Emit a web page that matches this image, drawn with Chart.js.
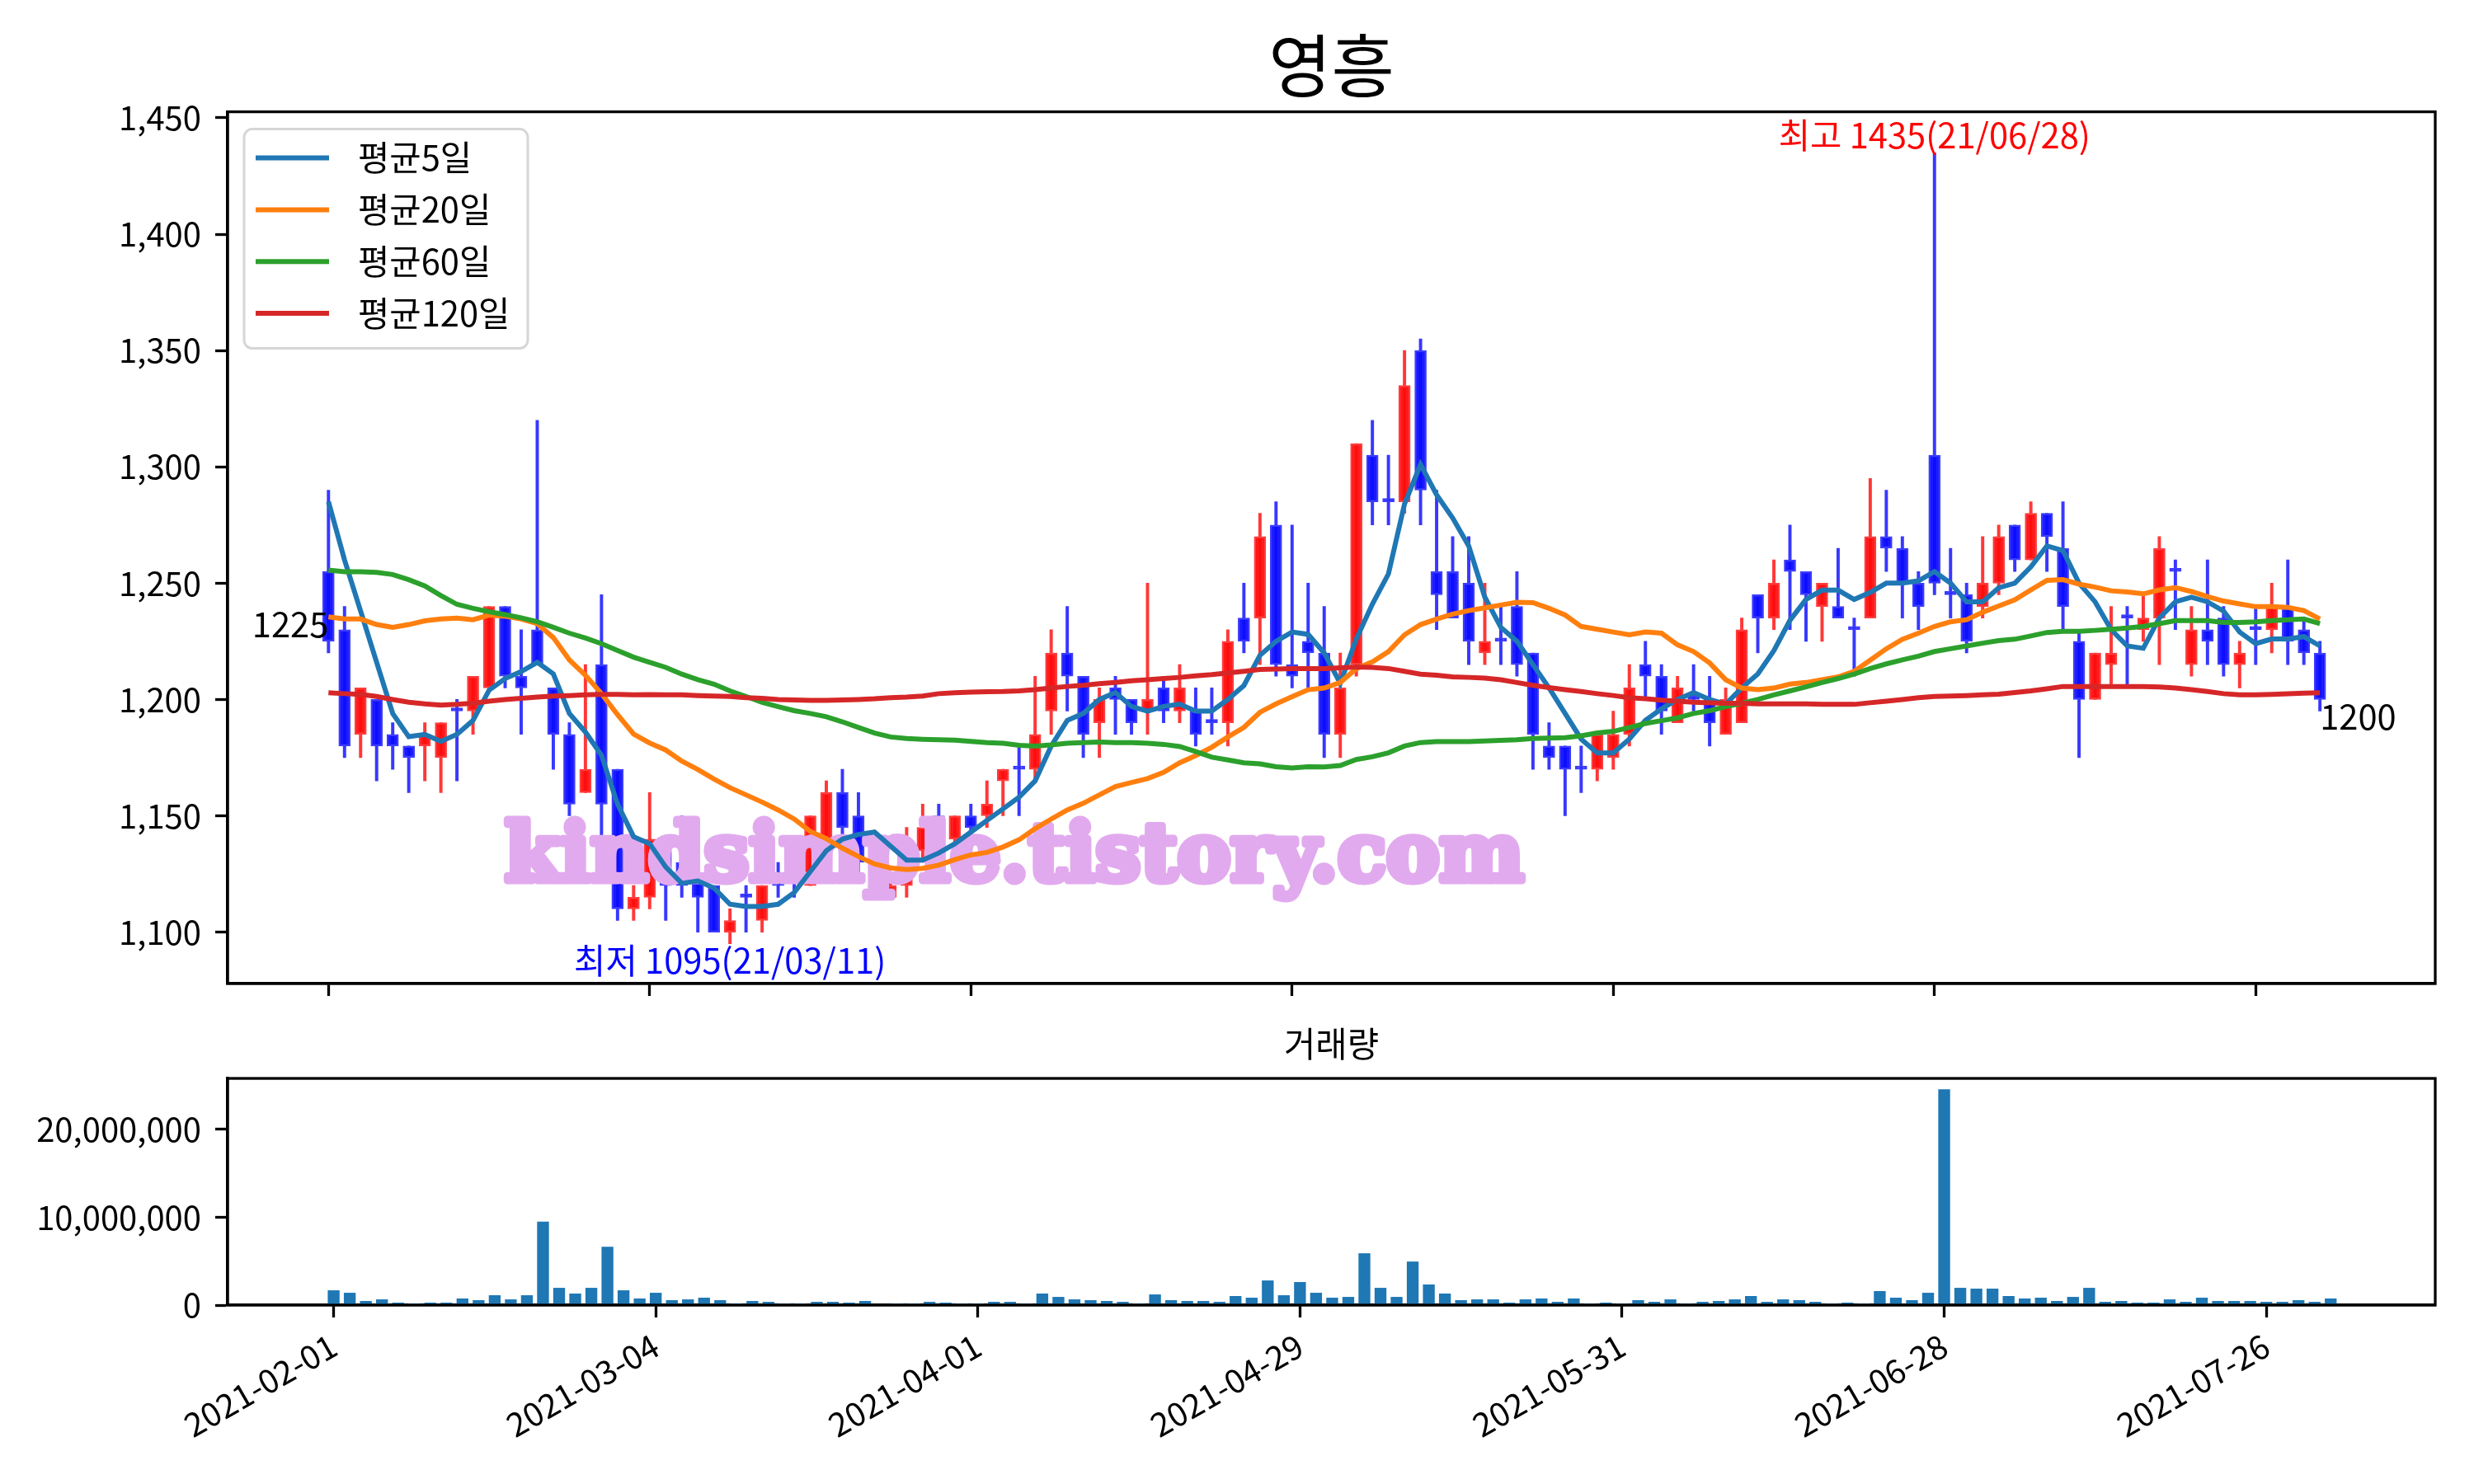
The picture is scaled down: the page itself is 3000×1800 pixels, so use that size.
<!DOCTYPE html>
<html><head><meta charset="utf-8">
<script src="https://cdn.jsdelivr.net/npm/chart.js@4.4.1/dist/chart.umd.min.js"></script>
<style>
html,body{margin:0;padding:0;background:#fff;}
#wrap{position:relative;width:3000px;height:1800px;background:#fff;overflow:hidden;}
#c1{position:absolute;left:0;top:0;}
#c2{position:absolute;left:0;top:1240px;}
</style></head><body>
<div id="wrap"><canvas id="c1" width="3000" height="1240"></canvas><canvas id="c2" width="3000" height="560"></canvas></div>
<script>
// ---------------- DATA ----------------
const chartTitle = '영흥';
const volumeTitle = '거래량';
const seriesNames = ['평균5일', '평균20일', '평균60일', '평균120일'];
const tickIdx = [0, 20, 40, 60, 80, 100, 120];
const tickLabels = ['2021-02-01', '2021-03-04', '2021-04-01', '2021-04-29', '2021-05-31', '2021-06-28', '2021-07-26'];
const priceTicks = [1100, 1150, 1200, 1250, 1300, 1350, 1400, 1450];
const volumeTicks = [0, 10000000, 20000000];
const highDate = '21/06/28';
const lowDate = '21/03/11';
const watermark = 'kindsimple.tistory.com';

const opens = [1255,1230,1185,1200,1185,1180,1180,1175,1195,1195,
 1205,1240,1210,1230,1205,1185,1160,1215,1170,1110,
 1115,1135,1130,1125,1120,1100,1115,1105,1120,1130,
 1120,1130,1160,1150,1135,1115,1120,1135,1150,1140,
 1150,1150,1165,1170,1170,1195,1220,1210,1190,1205,
 1200,1195,1205,1195,1195,1190,1190,1235,1235,1275,
 1215,1225,1220,1185,1215,1305,1285,1285,1350,1255,
 1255,1250,1220,1225,1240,1220,1180,1180,1170,1170,
 1175,1185,1215,1210,1190,1200,1200,1185,1190,1245,
 1235,1260,1255,1240,1240,1230,1235,1270,1265,1250,
 1305,1245,1245,1240,1250,1275,1260,1280,1265,1225,
 1200,1215,1235,1230,1235,1255,1215,1230,1235,1215,
 1230,1230,1240,1230,1220];
const highs = [1290,1240,1205,1200,1190,1180,1190,1190,1200,1210,
 1240,1240,1230,1320,1205,1190,1215,1245,1170,1120,
 1160,1140,1150,1130,1120,1110,1120,1120,1130,1135,
 1150,1165,1170,1160,1140,1125,1145,1155,1155,1150,
 1155,1165,1170,1180,1210,1230,1240,1210,1205,1210,
 1200,1250,1210,1215,1205,1205,1230,1250,1280,1285,
 1275,1250,1240,1220,1310,1320,1305,1350,1355,1290,
 1270,1270,1250,1240,1255,1220,1190,1180,1180,1185,
 1195,1215,1225,1215,1210,1215,1210,1205,1235,1245,
 1260,1275,1255,1250,1265,1235,1295,1290,1270,1255,
 1435,1265,1250,1270,1275,1275,1285,1280,1285,1230,
 1220,1240,1240,1245,1270,1260,1240,1260,1240,1225,
 1240,1250,1260,1235,1225];
const lows = [1220,1175,1175,1165,1170,1160,1165,1160,1165,1185,
 1205,1205,1185,1215,1170,1150,1160,1140,1105,1105,
 1110,1105,1115,1100,1100,1095,1100,1100,1115,1115,
 1120,1125,1140,1125,1120,1115,1115,1130,1135,1135,
 1140,1145,1150,1150,1165,1185,1195,1175,1175,1185,
 1185,1185,1190,1190,1180,1185,1180,1220,1215,1210,
 1205,1205,1175,1175,1210,1275,1275,1280,1275,1230,
 1235,1215,1215,1215,1210,1170,1170,1150,1160,1165,
 1170,1180,1200,1185,1190,1195,1180,1185,1190,1220,
 1230,1230,1225,1225,1235,1210,1235,1255,1235,1230,
 1245,1235,1220,1235,1245,1255,1260,1255,1230,1175,
 1200,1205,1205,1225,1215,1230,1210,1215,1210,1205,
 1215,1220,1215,1215,1195];
const closes = [1225,1180,1205,1180,1180,1175,1185,1190,1195,1210,
 1240,1210,1205,1215,1185,1155,1170,1155,1110,1115,
 1140,1120,1120,1115,1100,1105,1115,1120,1120,1125,
 1150,1160,1145,1130,1130,1120,1130,1145,1145,1150,
 1145,1155,1170,1170,1185,1220,1210,1185,1200,1200,
 1190,1200,1195,1205,1185,1190,1225,1225,1270,1215,
 1210,1220,1185,1205,1310,1285,1285,1335,1290,1245,
 1235,1225,1225,1225,1215,1185,1175,1170,1170,1185,
 1185,1205,1210,1195,1205,1200,1190,1200,1230,1235,
 1250,1255,1245,1250,1235,1230,1270,1265,1250,1240,
 1250,1245,1225,1250,1270,1260,1280,1270,1240,1200,
 1220,1220,1235,1235,1265,1255,1230,1225,1215,1220,
 1230,1240,1225,1220,1200];
const ma5 = [1285,1260,1238,1216,1194,1184,1185,1182,1185,1191,
 1204,1209,1212,1216,1211,1194,1186,1176,1155,1141,
 1138,1128,1121,1122,1119,1112,1111,1111,1112,1117,
 1126,1135,1140,1142,1143,1137,1131,1131,1134,1138,
 1143,1148,1153,1158,1165,1180,1191,1194,1200,1203,
 1197,1195,1197,1198,1195,1195,1200,1206,1219,1225,
 1229,1228,1220,1207,1226,1241,1254,1284,1301,1288,
 1278,1266,1244,1231,1225,1215,1205,1194,1183,1177,
 1177,1183,1191,1196,1200,1203,1200,1198,1205,1211,
 1221,1234,1243,1247,1247,1243,1246,1250,1250,1251,
 1255,1250,1242,1242,1248,1250,1257,1266,1264,1250,
 1242,1230,1223,1222,1235,1242,1244,1242,1238,1229,
 1224,1226,1226,1227,1223];
const ma20 = [1235.5,1234.6,1234.6,1232.2,1231,1232.2,1233.8,1234.6,1235,1234.3,
 1236.3,1235.8,1234.6,1232.6,1226.6,1217,1210.4,1202.5,1193.5,1185.1,
 1181.3,1178.3,1173.5,1169.9,1165.8,1162.1,1159,1155.9,1152.5,1148.6,
 1143.3,1140.2,1136.1,1132.5,1129.3,1127.6,1126.9,1127.4,1128.8,1131.2,
 1133.2,1134.3,1136.6,1139.7,1144.5,1148.6,1152.5,1155.4,1159,1162.6,
 1164.3,1166,1168.7,1172.8,1175.9,1179.5,1183.9,1188,1194.5,1198.1,
 1201.2,1204.2,1204.9,1207.3,1213.3,1216.2,1220.6,1227.8,1232.2,1234.6,
 1236.7,1238.2,1239.4,1240.6,1241.8,1241.6,1239.2,1236.3,1231.4,1230.2,
 1229,1227.8,1229,1228.5,1223.5,1220.6,1215.7,1208.5,1204.9,1204.2,
 1204.9,1206.6,1207.3,1208.5,1209.7,1212.1,1216.9,1221.8,1225.9,1228.5,
 1231.4,1233.4,1234.3,1237.5,1240.2,1242.8,1247.1,1251.2,1251.5,1249.6,
 1248.3,1246.7,1246.2,1245.4,1247.1,1248.1,1246.4,1244.2,1242.3,1241.1,
 1239.9,1239.9,1239.6,1238.2,1234.6];
const ma60 = [1255.6,1254.9,1254.9,1254.6,1253.7,1251.5,1248.8,1244.7,1240.9,1239.2,
 1237.7,1236.5,1235.1,1233.4,1231,1228.5,1226.4,1224,1221.1,1218.2,
 1216,1213.8,1210.9,1208.5,1206.6,1203.7,1201.3,1198.8,1196.9,1195.2,
 1194,1192.6,1190.4,1188,1185.6,1183.9,1183.2,1182.9,1182.7,1182.5,
 1182,1181.5,1181.2,1180.3,1180,1180.5,1181.2,1181.5,1181.7,1181.5,
 1181.5,1181.2,1180.7,1179.8,1177.6,1175.2,1174,1172.8,1172.3,1171.1,
 1170.6,1171.1,1171,1171.6,1174.2,1175.4,1177.1,1180,1181.5,1181.9,
 1181.9,1181.9,1182.2,1182.4,1182.7,1183.2,1183.4,1183.6,1184.4,1185.6,
 1186.3,1188,1189.7,1190.9,1192.1,1194,1195.2,1196.9,1198.4,1200,
 1202,1203.7,1205.4,1207.3,1209,1210.9,1213.3,1215.3,1217,1218.6,
 1220.6,1221.8,1223,1224.2,1225.3,1225.9,1227.3,1228.8,1229.3,1229.3,
 1229.7,1230.2,1230.7,1231.4,1232.6,1233.9,1233.9,1233.9,1233.1,1233.1,
 1233.4,1233.9,1234.3,1234.6,1232.6];
const ma120 = [1202.9,1202.5,1202.2,1201.3,1200,1198.8,1198.1,1197.6,1197.9,1198.4,
 1199.3,1200,1200.5,1201,1201.5,1201.7,1202,1202.2,1202.2,1202,
 1202.1,1202,1202,1201.7,1201.5,1201.3,1200.8,1200.5,1200,1199.8,
 1199.6,1199.6,1199.8,1200,1200.3,1200.8,1201,1201.5,1202.5,1202.9,
 1203.2,1203.3,1203.4,1203.7,1204.2,1204.9,1205.6,1206.1,1206.8,1207.3,
 1208,1208.5,1209,1209.5,1210.2,1210.7,1211.4,1212.1,1212.9,1213.1,
 1213.3,1213.3,1213.3,1213.6,1214,1213.8,1213.3,1212.1,1210.9,1210.4,
 1209.7,1209.5,1209.2,1208.5,1207.3,1206.1,1205.1,1204.2,1203.4,1202.5,
 1201.7,1200.8,1200.3,1199.7,1199.3,1198.8,1198.6,1198.4,1198.4,1198.1,
 1198.1,1198.1,1198.1,1197.9,1197.9,1197.9,1198.6,1199.3,1200,1200.8,
 1201.3,1201.5,1201.7,1202,1202.3,1203,1203.7,1204.6,1205.6,1205.6,
 1205.6,1205.6,1205.6,1205.6,1205.4,1204.9,1204.2,1203.4,1202.5,1202,
 1202,1202.2,1202.5,1202.7,1202.9];
const volumes = [1650000,1370000,440000,620000,250000,160000,250000,250000,720000,530000,
 1090000,620000,1090000,9450000,1930000,1280000,1930000,6600000,1650000,720000,
 1370000,530000,620000,810000,530000,160000,440000,340000,160000,160000,
 340000,340000,250000,440000,60000,160000,160000,340000,250000,160000,
 160000,340000,340000,160000,1280000,900000,620000,530000,440000,340000,
 160000,1180000,530000,440000,440000,340000,1000000,810000,2770000,1090000,
 2590000,1370000,810000,900000,5860000,1930000,900000,4920000,2310000,1280000,
 530000,620000,620000,250000,620000,720000,340000,720000,160000,250000,
 160000,530000,340000,620000,160000,340000,440000,620000,1000000,340000,
 620000,530000,340000,160000,250000,160000,1560000,810000,530000,1370000,
 24500000,1930000,1840000,1840000,1000000,720000,810000,440000,900000,1930000,
 340000,440000,250000,250000,620000,340000,810000,440000,440000,440000,
 340000,340000,530000,340000,720000];

// ---------------- STYLE ----------------
const FONT = "'Noto Sans CJK KR', 'Noto Sans', sans-serif";
const FS = 40;
const lineColors = ['#1f77b4', '#ff7f0e', '#2ca02c', '#d62728'];
Chart.defaults.font.family = FONT;
Chart.defaults.color = '#000';

const idx = closes.map((_, i) => i);
const isUp = i => closes[i] > opens[i];
const pts = arr => arr.map((v, i) => ({x: i, y: v}));

const framePlugin = {
  id: 'frame',
  afterDatasetsDraw(chart) {
    const {ctx, chartArea: a} = chart;
    ctx.save();
    ctx.strokeStyle = '#000';
    ctx.lineWidth = 3.3;
    ctx.strokeRect(a.left, a.top, a.right - a.left, a.bottom - a.top);
    ctx.restore();
  }
};

const watermarkPlugin = {
  id: 'watermark',
  afterDatasetDraw(chart, args) {
    if (args.index !== 1) return;
    const ctx = chart.ctx;
    ctx.save();
    let size = 92;
    ctx.font = `bold ${size}px 'DejaVu Serif'`;
    const w = ctx.measureText(watermark).width;
    size = size * 1236 / w;
    ctx.font = `bold ${size}px 'DejaVu Serif'`;
    ctx.fillStyle = '#E2AAEE';
    ctx.strokeStyle = '#E2AAEE';
    ctx.lineWidth = 9;
    ctx.lineJoin = 'round';
    ctx.textAlign = 'center';
    ctx.textBaseline = 'alphabetic';
    ctx.strokeText(watermark, 1230, 1068);
    ctx.fillText(watermark, 1230, 1068);
    ctx.restore();
  }
};

const annotationPlugin = {
  id: 'annot',
  afterDatasetsDraw(chart) {
    const {ctx} = chart;
    const xs = chart.scales.x, ys = chart.scales.y;
    const maxH = Math.max(...highs), iMax = highs.indexOf(maxH);
    const minL = Math.min(...lows), iMin = lows.indexOf(minL);
    const last = closes.length - 1;
    ctx.save();
    ctx.font = `41.7px ${FONT}`;
    ctx.fillStyle = '#ff0000';
    ctx.textAlign = 'center';
    ctx.textBaseline = 'bottom';
    ctx.fillText(`최고 ${maxH}(${highDate})`, xs.getPixelForValue(iMax), ys.getPixelForValue(maxH));
    ctx.fillStyle = '#0000ff';
    ctx.textBaseline = 'top';
    ctx.fillText(`최저 ${minL}(${lowDate})`, xs.getPixelForValue(iMin), ys.getPixelForValue(minL));
    ctx.fillStyle = '#000';
    ctx.textAlign = 'right';
    ctx.textBaseline = 'bottom';
    ctx.fillText(String(closes[0]), xs.getPixelForValue(0), ys.getPixelForValue(closes[0]));
    ctx.textAlign = 'left';
    ctx.textBaseline = 'top';
    ctx.fillText(String(closes[last]), xs.getPixelForValue(last), ys.getPixelForValue(closes[last]));
    ctx.restore();
  }
};

const legendPlugin = {
  id: 'mylegend',
  afterDraw(chart) {
    const {ctx, chartArea: a} = chart;
    const bx = a.left + 20, by = a.top + 21, bw = 344, bh = 266, r = 10;
    ctx.save();
    ctx.beginPath();
    ctx.moveTo(bx + r, by);
    ctx.arcTo(bx + bw, by, bx + bw, by + bh, r);
    ctx.arcTo(bx + bw, by + bh, bx, by + bh, r);
    ctx.arcTo(bx, by + bh, bx, by, r);
    ctx.arcTo(bx, by, bx + bw, by, r);
    ctx.closePath();
    ctx.fillStyle = 'rgba(255,255,255,0.8)';
    ctx.fill();
    ctx.strokeStyle = '#d6d6d6';
    ctx.lineWidth = 3;
    ctx.stroke();
    ctx.font = `41.7px ${FONT}`;
    ctx.textAlign = 'left';
    ctx.textBaseline = 'middle';
    seriesNames.forEach((name, k) => {
      const yy = by + 35 + k * 62.8;
      ctx.strokeStyle = lineColors[k];
      ctx.lineWidth = 6;
      ctx.beginPath();
      ctx.moveTo(bx + 14, yy);
      ctx.lineTo(bx + 103, yy);
      ctx.stroke();
      ctx.fillStyle = '#000';
      ctx.fillText(name, bx + 138, yy);
    });
    ctx.restore();
  }
};

const tickGrid = {display: true, offset: false, drawOnChartArea: false, drawTicks: true, tickLength: 15, tickWidth: 3.3, tickColor: '#000', color: '#000'};
const axisBorder = {display: true, color: '#000', width: 3.3};

// ---------------- PRICE CHART ----------------
new Chart(document.getElementById('c1'), {
  data: {
    datasets: [
      {
        type: 'bar', label: 'wick', order: 6, grouped: false,
        data: idx.map(i => ({x: i, y: [lows[i], highs[i]]})),
        backgroundColor: idx.map(i => isUp(i) ? 'rgba(255,0,0,0.78)' : 'rgba(0,0,255,0.78)'),
        borderWidth: 0, barThickness: 3.3
      },
      {
        type: 'bar', label: 'body', order: 5, grouped: false,
        data: idx.map(i => ({x: i, y: [opens[i], closes[i]]})),
        backgroundColor: idx.map(i => isUp(i) ? 'rgba(255,10,10,0.92)' : 'rgba(10,10,255,0.92)'),
        borderColor: idx.map(i => isUp(i) ? 'rgba(255,60,60,1)' : 'rgba(60,60,255,1)'),
        borderWidth: 2.5, borderSkipped: false, barThickness: 14, minBarLength: 4
      },
      {type: 'line', label: seriesNames[0], order: 4, data: pts(ma5), borderColor: lineColors[0], borderWidth: 6, pointRadius: 0, tension: 0},
      {type: 'line', label: seriesNames[1], order: 3, data: pts(ma20), borderColor: lineColors[1], borderWidth: 6, pointRadius: 0, tension: 0},
      {type: 'line', label: seriesNames[2], order: 2, data: pts(ma60), borderColor: lineColors[2], borderWidth: 6, pointRadius: 0, tension: 0},
      {type: 'line', label: seriesNames[3], order: 1, data: pts(ma120), borderColor: lineColors[3], borderWidth: 6, pointRadius: 0, tension: 0}
    ]
  },
  options: {
    responsive: false, animation: false, devicePixelRatio: 1, events: [],
    layout: {padding: {left: 0, right: 47, top: 0, bottom: 0}},
    plugins: {
      legend: {display: false}, tooltip: {enabled: false},
      title: {display: true, text: chartTitle, fullSize: false, color: '#000',
        font: {size: 83, weight: 'normal', family: FONT}, padding: {top: 30, bottom: 6}}
    },
    scales: {
      x: {
        type: 'linear', min: -6.28, max: 131.18, offset: false,
        afterBuildTicks: s => { s.ticks = tickIdx.map(v => ({value: v})); },
        ticks: {display: false, autoSkip: false},
        grid: tickGrid, border: axisBorder,
        afterFit: s => { s.height = 47; }
      },
      y: {
        type: 'linear', min: 1077.9, max: 1452.6,
        afterBuildTicks: s => { s.ticks = priceTicks.map(v => ({value: v})); },
        ticks: {font: {size: FS, family: FONT}, color: '#000', padding: 17, callback: v => v.toLocaleString('en-US')},
        grid: tickGrid, border: axisBorder,
        afterFit: s => { s.width = 276; }
      }
    }
  },
  plugins: [watermarkPlugin, framePlugin, annotationPlugin, legendPlugin]
});

// ---------------- VOLUME CHART ----------------
new Chart(document.getElementById('c2'), {
  type: 'bar',
  data: {
    datasets: [{
      label: volumeTitle,
      data: idx.map(i => ({x: i, y: volumes[i]})),
      backgroundColor: '#1f77b4', borderWidth: 0, barThickness: 13.7
    }]
  },
  options: {
    responsive: false, animation: false, devicePixelRatio: 1, events: [],
    layout: {padding: {left: 0, right: 47, top: 0, bottom: 0}},
    plugins: {
      legend: {display: false}, tooltip: {enabled: false},
      title: {display: true, text: volumeTitle, fullSize: false, color: '#000',
        font: {size: 41.7, weight: 'normal', family: FONT}, padding: {top: 1, bottom: 17}}
    },
    scales: {
      x: {
        type: 'linear', min: -6.585, max: 130.49, offset: false,
        afterBuildTicks: s => { s.ticks = tickIdx.map(v => ({value: v})); },
        ticks: {autoSkip: false, minRotation: 30, maxRotation: 30, padding: 10,
          font: {size: FS, family: FONT}, color: '#000',
          callback: (v, i) => tickLabels[i]},
        grid: tickGrid, border: axisBorder,
        afterFit: s => { s.height = 217; }
      },
      y: {
        type: 'linear', min: 0, max: 25770000,
        afterBuildTicks: s => { s.ticks = volumeTicks.map(v => ({value: v})); },
        ticks: {font: {size: FS, family: FONT}, color: '#000', padding: 17, callback: v => v.toLocaleString('en-US')},
        grid: tickGrid, border: axisBorder,
        afterFit: s => { s.width = 276; }
      }
    }
  },
  plugins: [framePlugin]
});
</script>
</body></html>
